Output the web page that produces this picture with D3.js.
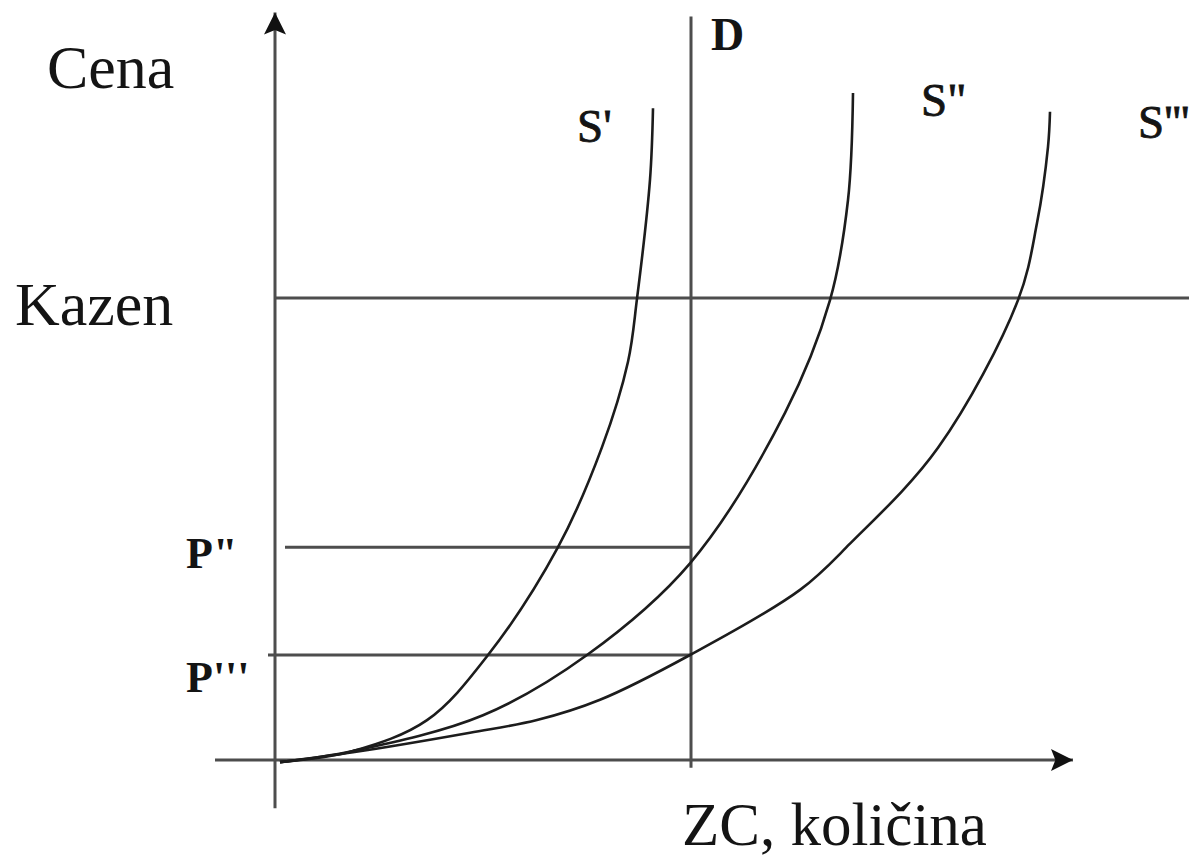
<!DOCTYPE html>
<html>
<head>
<meta charset="utf-8">
<script src="https://cdn.jsdelivr.net/npm/d3@7"></script>
<style>
  html, body { margin: 0; padding: 0; background: #fff; }
  svg { display: block; }
  text { font-family: "Liberation Serif", "Times New Roman", serif; fill: #141414; }
</style>
</head>
<body>
<svg id="chart" width="1189" height="859"></svg>
<script>
// ---------- data (quantity units, price units) ----------
const curveNames = ["S'", "S\"", "S'''"];
const supplyS1 = [[0.5,-0.3],[7.8,1.3],[15.2,5.7],[21.3,15],[28.3,30.4],[32.7,44.7],[35.3,56.9],[36.2,65.9],[37.5,82.9],[37.8,93.1]];
const supplyS2 = [[0.5,-0.3],[7.8,1.3],[20.8,6.4],[31.2,15],[41.5,28.1],[51,49.6],[55.5,65.7],[57.3,80],[57.8,95.3]];
const supplyS3 = [[0.5,-0.3],[7.8,1.1],[19.5,3.9],[26.2,5.7],[32.5,8.6],[41.5,15],[52.5,24.3],[57.5,30.9],[66.3,44.6],[74.3,65.7],[76.2,76.7],[77.3,87.6],[77.5,92.6]];
const demandQ = 41.6;          // vertical demand line D
const penaltyPrice = 66;       // "Kazen"
const priceP2 = 30.4;          // P"
const priceP3 = 15;            // P'''
const axisLabels = { y: "Cena", x: "ZC, količina", penalty: "Kazen", demand: "D", p2: "P\"", p3: "P'''" };

// ---------- scales ----------
const svg = d3.select("#chart");
const x = d3.scaleLinear().domain([0, 80]).range([275, 1075]);
const y = d3.scaleLinear().domain([0, 100]).range([760, 60]);

const gray = "#4d4d4d";
const dark = "#1c1c1c";

// arrow markers
const defs = svg.append("defs");
defs.append("marker").attr("id", "arrow")
  .attr("viewBox", "0 0 10 10").attr("refX", 10).attr("refY", 5)
  .attr("markerWidth", 26).attr("markerHeight", 22)
  .attr("markerUnits", "userSpaceOnUse")
  .attr("orient", "auto")
  .append("path").attr("d", "M0,0 L10,5 L0,10 L2,5 Z").attr("fill", "#111");

// axes
svg.append("line")
  .attr("x1", x(0)).attr("y1", y(-6.9)).attr("x2", x(0)).attr("y2", y(106.8))
  .attr("stroke", gray).attr("stroke-width", 3).attr("marker-end", "url(#arrow)");
svg.append("line")
  .attr("x1", x(-6)).attr("y1", y(0)).attr("x2", x(79.8)).attr("y2", y(0))
  .attr("stroke", gray).attr("stroke-width", 3).attr("marker-end", "url(#arrow)");

// demand line D
svg.append("line")
  .attr("x1", x(demandQ)).attr("x2", x(demandQ)).attr("y1", y(-1.1)).attr("y2", y(106.2))
  .attr("stroke", gray).attr("stroke-width", 3);

// penalty (Kazen) line
svg.append("line")
  .attr("x1", x(0)).attr("x2", x(91.4)).attr("y1", y(penaltyPrice)).attr("y2", y(penaltyPrice))
  .attr("stroke", gray).attr("stroke-width", 3);

// P" and P''' lines
svg.append("line")
  .attr("x1", x(1)).attr("x2", x(demandQ)).attr("y1", y(priceP2)).attr("y2", y(priceP2))
  .attr("stroke", gray).attr("stroke-width", 3);
svg.append("line")
  .attr("x1", x(-0.7)).attr("x2", x(demandQ)).attr("y1", y(priceP3)).attr("y2", y(priceP3))
  .attr("stroke", gray).attr("stroke-width", 3);

// supply curves
const line = d3.line().x(d => x(d[0])).y(d => y(d[1])).curve(d3.curveCatmullRom.alpha(0.5));
[supplyS1, supplyS2, supplyS3].forEach(s => {
  svg.append("path").attr("d", line(s))
    .attr("fill", "none").attr("stroke", dark).attr("stroke-width", 2.6);
});

// labels
svg.append("text").attr("x", 47).attr("y", 88).attr("font-size", 62).text(axisLabels.y);
svg.append("text").attr("x", 15).attr("y", y(penaltyPrice) + 27).attr("font-size", 62).text(axisLabels.penalty);
svg.append("text").attr("x", 682).attr("y", 845).attr("font-size", 61).text(axisLabels.x);
svg.append("text").attr("x", 711).attr("y", 50).attr("font-size", 46).attr("font-weight", "bold").text(axisLabels.demand);
svg.append("text").attr("x", 186).attr("y", y(priceP2) + 21).attr("font-size", 44).attr("font-weight", "bold").text(axisLabels.p2);
svg.append("text").attr("x", 186).attr("y", y(priceP3) + 37).attr("font-size", 44).attr("font-weight", "bold").text(axisLabels.p3);

const sLabels = [[577, 142], [921, 116], [1138, 138]];
curveNames.forEach((n, i) => {
  svg.append("text").attr("x", sLabels[i][0]).attr("y", sLabels[i][1])
    .attr("font-size", 47).attr("stroke", "#141414").attr("stroke-width", 0.8).text(n);
});
</script>
</body>
</html>
